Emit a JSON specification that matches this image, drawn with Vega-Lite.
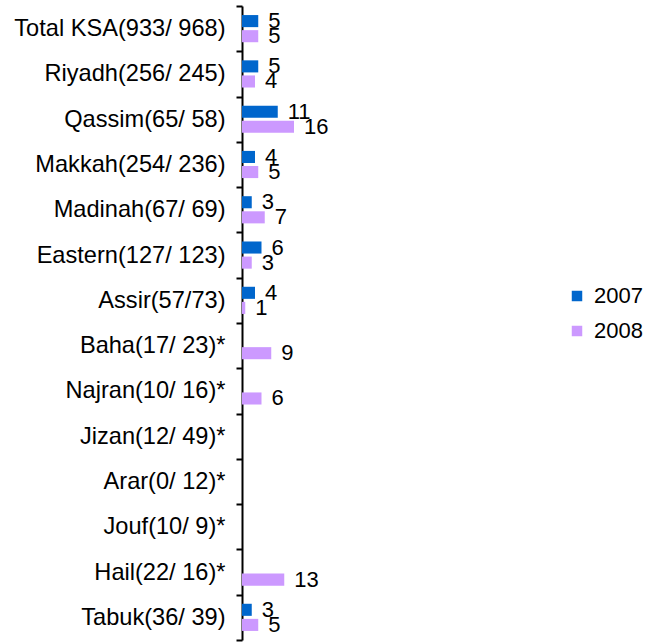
{
  "$schema": "https://vega.github.io/schema/vega-lite/v6.json",
  "autosize": {"type": "none"},
  "padding": {"left": 242, "top": 6, "right": 78, "bottom": 2},
  "width": 325,
  "height": 634,
  "config": {"view": {"stroke": null}, "font": "Liberation Sans"},
  "data": {
    "values": [
      {"region": "Total KSA(933/ 968)", "year": "2007", "value": 5},
      {"region": "Total KSA(933/ 968)", "year": "2008", "value": 5},
      {"region": "Riyadh(256/ 245)", "year": "2007", "value": 5},
      {"region": "Riyadh(256/ 245)", "year": "2008", "value": 4},
      {"region": "Qassim(65/ 58)", "year": "2007", "value": 11},
      {"region": "Qassim(65/ 58)", "year": "2008", "value": 16},
      {"region": "Makkah(254/ 236)", "year": "2007", "value": 4},
      {"region": "Makkah(254/ 236)", "year": "2008", "value": 5},
      {"region": "Madinah(67/ 69)", "year": "2007", "value": 3},
      {"region": "Madinah(67/ 69)", "year": "2008", "value": 7},
      {"region": "Eastern(127/ 123)", "year": "2007", "value": 6},
      {"region": "Eastern(127/ 123)", "year": "2008", "value": 3},
      {"region": "Assir(57/73)", "year": "2007", "value": 4},
      {"region": "Assir(57/73)", "year": "2008", "value": 1},
      {"region": "Baha(17/ 23)*", "year": "2008", "value": 9},
      {"region": "Najran(10/ 16)*", "year": "2008", "value": 6},
      {"region": "Hail(22/ 16)*", "year": "2008", "value": 13},
      {"region": "Tabuk(36/ 39)", "year": "2007", "value": 3},
      {"region": "Tabuk(36/ 39)", "year": "2008", "value": 5}
    ]
  },
  "encoding": {
    "y": {
      "field": "region",
      "type": "nominal",
      "sort": null,
      "scale": {
        "domain": ["Total KSA(933/ 968)", "Riyadh(256/ 245)", "Qassim(65/ 58)", "Makkah(254/ 236)", "Madinah(67/ 69)", "Eastern(127/ 123)", "Assir(57/73)", "Baha(17/ 23)*", "Najran(10/ 16)*", "Jizan(12/ 49)*", "Arar(0/ 12)*", "Jouf(10/ 9)*", "Hail(22/ 16)*", "Tabuk(36/ 39)"],
        "paddingInner": 0,
        "paddingOuter": 0
      },
      "axis": {
        "title": null,
        "tickBand": "extent",
        "domainColor": "#000000",
        "domainWidth": 2,
        "tickColor": "#000000",
        "tickWidth": 2,
        "tickSize": 6,
        "labelPadding": 11,
        "labelFontSize": 23.6,
        "labelLimit": 0,
        "labelColor": "#000000",
        "labelFont": "Liberation Sans",
        "grid": false
      }
    },
    "yOffset": {
      "field": "year",
      "type": "nominal",
      "scale": {"domain": ["2007", "2008"], "paddingInner": 0.2, "paddingOuter": 0.6}
    },
    "x": {
      "field": "value",
      "type": "quantitative",
      "scale": {"domain": [0, 100]},
      "axis": null
    }
  },
  "layer": [
    {
      "mark": {"type": "bar"},
      "encoding": {
        "color": {
          "field": "year",
          "type": "nominal",
          "scale": {"domain": ["2007", "2008"], "range": ["#0066CC", "#CC99FF"]},
          "legend": {
            "title": null,
            "orient": "none",
            "legendX": 324,
            "legendY": 279,
            "padding": 0,
            "symbolType": "square",
            "symbolSize": 110,
            "symbolStrokeWidth": 0,
            "labelFontSize": 22,
            "labelFont": "Liberation Sans",
            "labelColor": "#000000",
            "labelOffset": 6,
            "rowPadding": 13
          }
        }
      }
    },
    {
      "mark": {"type": "text", "align": "left", "baseline": "middle", "dx": 10, "fontSize": 22, "font": "Liberation Sans", "color": "#000000"},
      "encoding": {
        "text": {"field": "value", "type": "quantitative"}
      }
    }
  ]
}
